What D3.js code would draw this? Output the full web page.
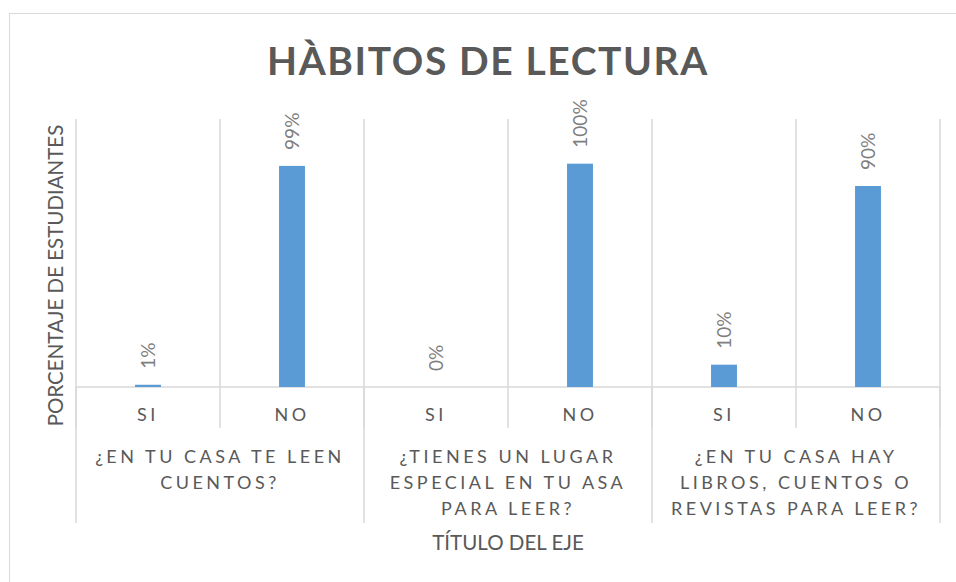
<!DOCTYPE html>
<html>
<head>
<meta charset="utf-8">
<script src="https://cdn.jsdelivr.net/npm/d3@7"></script>
<style>
  html, body { margin: 0; padding: 0; background: #ffffff; }
  svg { display: block; }
  text { font-family: Lato, "Open Sans", sans-serif; }
</style>
</head>
<body>
<svg id="chart" width="956" height="582"></svg>
<script>
// ---- data ----
const title = "HÀBITOS DE LECTURA";
const yTitle = "PORCENTAJE DE ESTUDIANTES";
const xTitle = "TÍTULO DEL EJE";
const groupLines = [
  ["¿EN TU CASA TE LEEN", "CUENTOS?"],
  ["¿TIENES UN LUGAR", "ESPECIAL EN TU ASA", "PARA LEER?"],
  ["¿EN TU CASA HAY", "LIBROS, CUENTOS O", "REVISTAS PARA LEER?"]
];
const answers = ["SI", "NO"];
const values = [0.01, 0.99, 0.00, 1.00, 0.10, 0.90];
const valueLabels = ["1%", "99%", "0%", "100%", "10%", "90%"];

// ---- layout ----
const svg = d3.select("#chart");
const plot = { left: 76, right: 940, top: 119, bottom: 387 };
const axisBottomY = 523;
const levelSplitY = 428;
const gridColor = "#d9d9d9";
const textColor = "#595959";
const labelColor = "#7f7f7f";
const barColor = "#5b9bd5";

const cats = [];
groupLines.forEach((g, gi) => answers.forEach((a, ai) => cats.push({ id: gi + "-" + ai, g: gi, a: a })));

const x = d3.scaleBand().domain(cats.map(d => d.id)).range([plot.left, plot.right]).paddingInner(0).paddingOuter(0);
const y = d3.scaleLinear().domain([0, 1.2]).range([plot.bottom, plot.top]);
const bw = x.bandwidth() * 0.18;

// chart border
svg.append("rect").attr("x", 9.5).attr("y", 13.5).attr("width", 1000).attr("height", 700)
  .attr("fill", "#fff").attr("stroke", gridColor).attr("stroke-width", 1);

// title
svg.append("text").attr("x", 488).attr("y", 75).attr("text-anchor", "middle")
  .attr("font-size", 39).attr("font-weight", "bold").attr("letter-spacing", 1.6)
  .attr("fill", textColor).text(title);

// vertical gridlines at category boundaries
const bounds = cats.map(d => x(d.id)).concat([plot.right]);
svg.append("g").selectAll("line").data(bounds).join("line")
  .attr("x1", d => d).attr("x2", d => d).attr("y1", plot.top).attr("y2", plot.bottom)
  .attr("stroke", gridColor).attr("stroke-width", 1.5);

// category axis line
svg.append("line").attr("x1", plot.left).attr("x2", plot.right).attr("y1", plot.bottom).attr("y2", plot.bottom)
  .attr("stroke", gridColor).attr("stroke-width", 1.5);

// first-level ticks
svg.append("g").selectAll("line").data(bounds).join("line")
  .attr("x1", d => d).attr("x2", d => d).attr("y1", plot.bottom).attr("y2", levelSplitY)
  .attr("stroke", gridColor).attr("stroke-width", 1.5);

// group boundary ticks
const gBounds = groupLines.map((g, gi) => x(gi + "-0")).concat([plot.right]);
svg.append("g").selectAll("line").data(gBounds).join("line")
  .attr("x1", d => d).attr("x2", d => d).attr("y1", plot.bottom).attr("y2", axisBottomY)
  .attr("stroke", gridColor).attr("stroke-width", 1.5);

// bars
svg.append("g").selectAll("rect").data(cats).join("rect")
  .attr("x", (d) => x(d.id) + x.bandwidth() / 2 - bw / 2)
  .attr("width", bw)
  .attr("y", (d, i) => y(values[i]))
  .attr("height", (d, i) => y(0) - y(values[i]))
  .attr("fill", barColor);

// data labels (rotated)
const dlSize = 19;
svg.append("g").selectAll("text").data(cats).join("text")
  .attr("transform", (d, i) => {
    const cx = x(d.id) + x.bandwidth() / 2 + dlSize * 0.36;
    const cy = y(values[i]) - 16;
    return `translate(${cx},${cy}) rotate(-90)`;
  })
  .attr("font-size", dlSize).attr("fill", labelColor)
  .text((d, i) => valueLabels[i]);

// first-level labels via axis
const catSize = 18, catSpacing = 3.5;
const axis = d3.axisBottom(x).tickSize(0).tickPadding(0).tickFormat(id => cats.find(c => c.id === id).a);
const ag = svg.append("g").attr("transform", `translate(0,${plot.bottom})`).call(axis);
ag.select(".domain").remove();
ag.selectAll("text").attr("dy", null).attr("y", 415 + catSize * 0.36 - plot.bottom)
  .attr("font-size", catSize).attr("letter-spacing", catSpacing).attr("fill", textColor)
  .attr("font-family", "Lato, 'Open Sans', sans-serif");

// group labels
const lineYs = [457, 483, 508.5];
groupLines.forEach((lines, gi) => {
  const cx = (x(gi + "-0") + x(gi + "-1") + x.bandwidth()) / 2;
  svg.append("g").selectAll("text").data(lines).join("text")
    .attr("x", cx).attr("y", (d, li) => lineYs[li] + catSize * 0.36)
    .attr("text-anchor", "middle").attr("font-size", catSize).attr("letter-spacing", catSpacing)
    .attr("fill", textColor).text(d => d);
});

// axis titles
svg.append("text").attr("x", (plot.left + plot.right) / 2).attr("y", 550)
  .attr("text-anchor", "middle").attr("font-size", 20.5).attr("fill", textColor).text(xTitle);

svg.append("text").attr("transform", "translate(63,275.5) rotate(-90)")
  .attr("text-anchor", "middle").attr("font-size", 20.5).attr("fill", textColor).text(yTitle);
</script>
</body>
</html>
